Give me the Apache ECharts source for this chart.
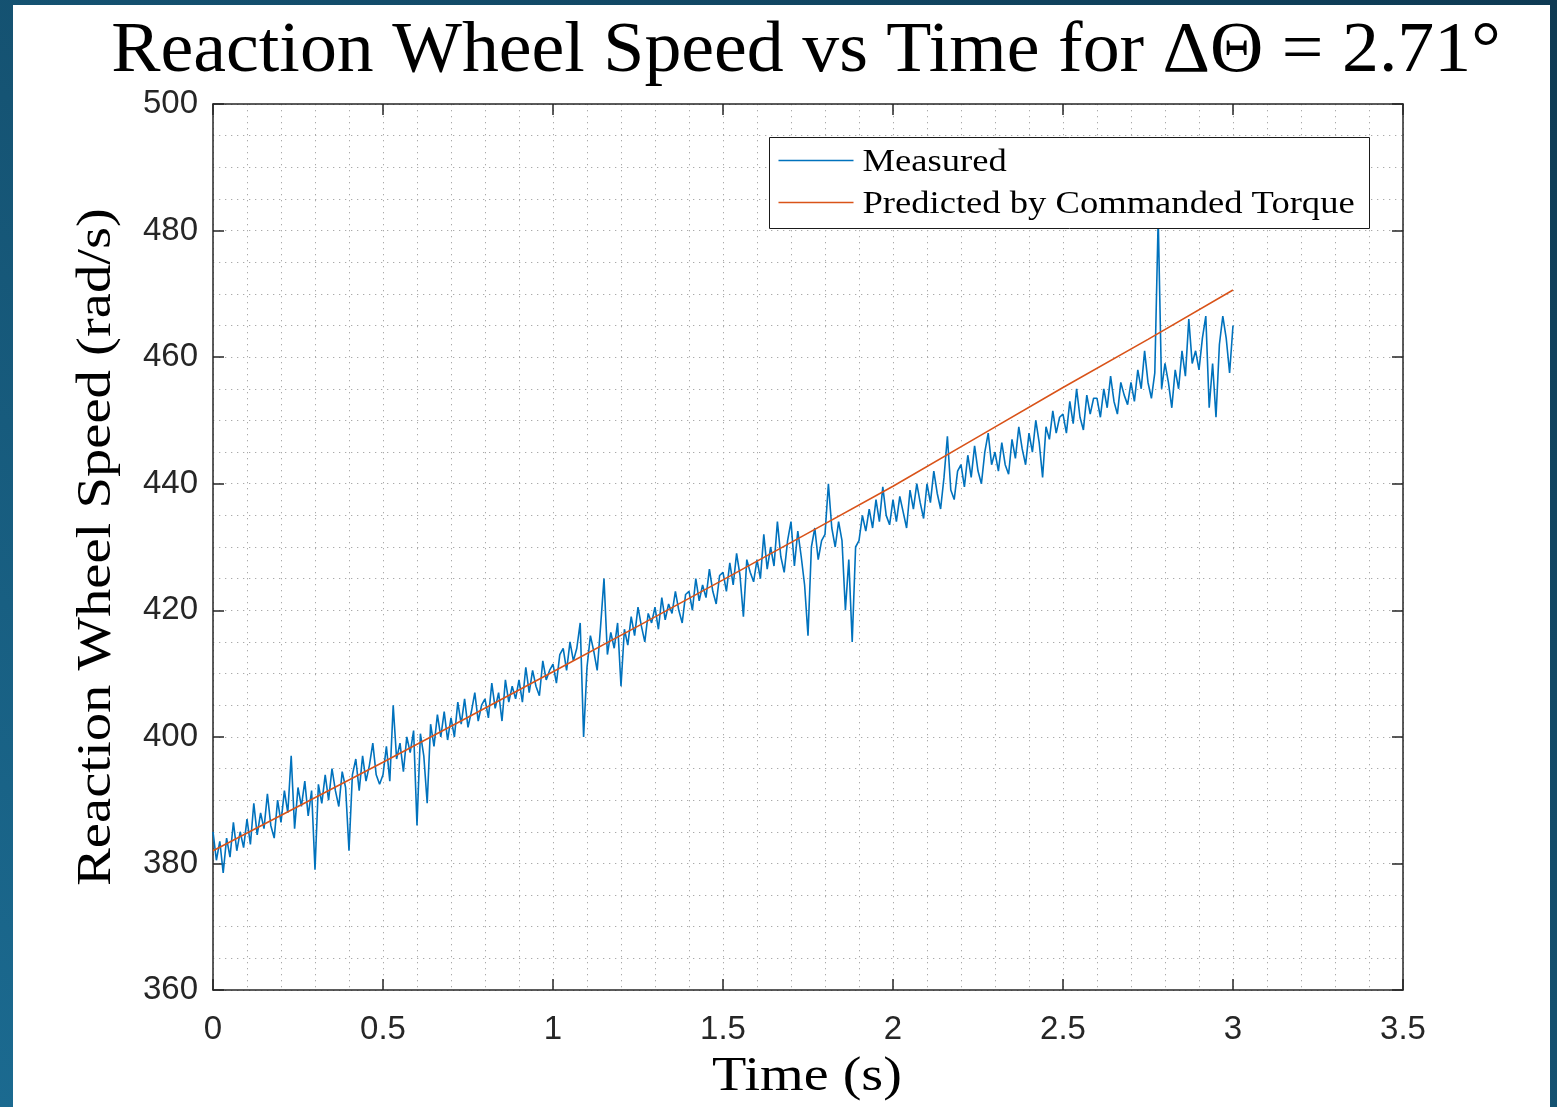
<!DOCTYPE html>
<html>
<head>
<meta charset="utf-8">
<script src="https://cdn.jsdelivr.net/npm/echarts@6/dist/echarts.min.js"></script>
<style>
  html, body { margin: 0; padding: 0; }
  #frame {
    position: relative; width: 1557px; height: 1107px; overflow: hidden;
    background: linear-gradient(to bottom left, #0e3a53, #1b6a90);
  }
  #chart { position: absolute; left: 13px; top: 5px; width: 1537px; height: 1102px; background: #fff; }
</style>
</head>
<body>
<div id="frame"><div id="chart"></div></div>
<script>
// ---- text ----
const titleText = 'Reaction Wheel Speed vs Time for \u0394\u0398 = 2.71\u00b0';
const xAxisTitle = 'Time (s)';
const yAxisTitle = 'Reaction Wheel Speed (rad/s)';
const seriesNames = ['Measured', 'Predicted by Commanded Torque'];
const seriesColors = ['#0072BD', '#D95319'];

// ---- axis ticks ----
const xTickValues = [0, 0.5, 1, 1.5, 2, 2.5, 3, 3.5];
const yTickValues = [360, 380, 400, 420, 440, 460, 480, 500];

// ---- measured wheel speed (rad/s), one sample every 10 ms from t = 0 ----
const sampleStep = 0.01;
const measuredSpeed = [
  385, 380.5, 383.5, 378.5, 384, 381, 386.5, 382, 385, 382.5,
  387, 383, 389.5, 384.5, 388, 385.5, 391, 386, 384, 390,
  386.5, 391.5, 388, 397, 385.5, 392, 389, 393, 387.5, 391.5,
  379, 392.5, 389.5, 394, 390, 395, 391.5, 389, 394.5, 392,
  382, 394, 396.5, 391.5, 397, 393, 395.5, 399, 394, 392.5,
  394, 398.5, 393, 405, 396.5, 399, 394.5, 400, 397.5, 401,
  386, 400.5, 397, 389.5, 402, 398.5, 403.5, 400, 404, 399.5,
  403, 400, 405.5, 402, 406, 401.5, 404, 407, 402.5, 405,
  406, 403, 408.5, 404.5, 407, 402.5, 409, 405.5, 408, 406,
  409, 405.5, 411, 407, 410.5, 408, 406.5, 412, 409, 410.5,
  411.5, 408.5, 413, 414, 410.5, 415, 412, 414, 418, 400,
  411, 416, 413.5, 410.5, 417.5, 425, 413, 416.5, 414, 418,
  408, 417, 414.5, 419, 416, 420.5, 417.5, 415, 419.5, 418,
  420.5, 417, 422, 418.5, 421, 419.5, 423, 420, 418, 422.5,
  423, 420, 425, 421.5, 424, 422, 426.5, 423, 421, 425.5,
  426, 423, 427.5, 424, 429, 425.5, 419, 428, 426, 424.5,
  428, 425, 432, 426.5, 430, 427, 434, 428.5, 426, 431,
  434, 427, 432.5, 428.5, 424, 416, 430, 433, 428, 431,
  432, 440, 433, 430, 434, 431, 420, 428, 415, 430,
  431, 435, 432.5, 436, 433, 437.5, 434, 439.5, 435, 433.5,
  437.5, 434, 438, 435.5, 433, 439, 436, 440, 437, 434.5,
  440, 437, 442, 438.5, 436, 441, 447.5, 439, 437.5, 442,
  443, 439.5, 444.5, 441, 446, 442, 440, 445, 448, 443,
  445, 442, 446.5, 443, 441.5, 447, 444, 449, 445.5, 443,
  448, 445, 450, 446.5, 441, 449, 447, 451.5, 448, 450.5,
  451, 448, 453, 449.5, 455, 450.5, 448.5, 454, 451, 453.5,
  453.5, 450.5, 455, 452, 457, 453, 451, 456, 454, 452.5,
  456, 453, 458, 455, 461, 456, 453.5, 457.5, 482, 455,
  459, 456, 452, 458, 455, 461, 457, 466, 459, 461,
  458, 463, 466.5, 452, 459, 450.5, 462, 466.5, 463, 457.5, 465
];

// ---- speed predicted from the commanded torque (rad/s) ----
const predictedTime = [0, 0.25, 0.5, 0.75, 1, 1.25, 1.5, 1.75, 2, 2.25, 2.5, 2.75, 3];
const predictedSpeed = [382.0, 389.0, 396.0, 403.1, 410.3, 417.5, 424.8, 432.2, 439.6, 447.4, 455.2, 462.8, 470.6];

const measuredPoints = measuredSpeed.map((v, i) => [Math.round(i * sampleStep * 100) / 100, v]);
const predictedPoints = predictedTime.map((t, i) => [t, predictedSpeed[i]]);

const axisColor = '#262626';
const gridDots = { color: '#aaaaaa', width: 1, type: [1.3, 4.7] };
const serif = 'Liberation Serif';
const sans = 'Liberation Sans';

const xMin = xTickValues[0], xMax = xTickValues[xTickValues.length - 1], xStep = xTickValues[1] - xTickValues[0];
const yMin = yTickValues[0], yMax = yTickValues[yTickValues.length - 1], yStep = yTickValues[1] - yTickValues[0];

function xAxisDef(pos, labels) {
  return {
    type: 'value', position: pos, min: xMin, max: xMax, interval: xStep,
    axisLine: { show: true, onZero: false, lineStyle: { color: axisColor, width: 1.5 } },
    axisTick: { show: true, inside: true, length: 11, lineStyle: { color: axisColor, width: 1.5 } },
    axisLabel: { show: labels, margin: 23, color: axisColor, fontFamily: sans, fontSize: 33 },
    splitLine: { show: labels, lineStyle: gridDots },
    minorTick: { show: false, splitNumber: 5 },
    minorSplitLine: { show: labels, lineStyle: gridDots }
  };
}
function yAxisDef(pos, labels) {
  return {
    type: 'value', position: pos, min: yMin, max: yMax, interval: yStep,
    axisLine: { show: true, onZero: false, lineStyle: { color: axisColor, width: 1.5 } },
    axisTick: { show: true, inside: true, length: 11, lineStyle: { color: axisColor, width: 1.5 } },
    axisLabel: { show: labels, margin: 15, color: axisColor, fontFamily: sans, fontSize: 33 },
    splitLine: { show: labels, lineStyle: gridDots },
    minorTick: { show: false, splitNumber: 4 },
    minorSplitLine: { show: labels, lineStyle: gridDots }
  };
}

// legend box drawn as a small group in the upper part of the plot, on top of the traces
const legendBox = { x: 756.5, y: 132.5, w: 600, h: 91, rowY: [23, 65], lineX: [9, 84], textX: 93, textDy: 2 };
const legendItems = [];
legendItems.push({ type: 'rect', z: 100, shape: { x: 0, y: 0, width: legendBox.w, height: legendBox.h },
  style: { fill: '#ffffff', stroke: '#1a1a1a', lineWidth: 1 } });
seriesNames.forEach((name, i) => {
  legendItems.push({ type: 'line', z: 101,
    shape: { x1: legendBox.lineX[0], y1: legendBox.rowY[i], x2: legendBox.lineX[1], y2: legendBox.rowY[i] },
    style: { stroke: seriesColors[i], lineWidth: 1.5 } });
  legendItems.push({ type: 'text', z: 101, x: legendBox.textX, y: legendBox.rowY[i] + legendBox.textDy, scaleX: 1.18,
    style: { text: name, fontFamily: serif, fontSize: 31, fill: '#000', align: 'left', verticalAlign: 'middle' } });
});

const chart = echarts.init(document.getElementById('chart'), null, { renderer: 'canvas' });
chart.setOption({
  animation: false,
  backgroundColor: '#ffffff',
  grid: { left: 200, top: 99, width: 1190, height: 886, containLabel: false },
  xAxis: [xAxisDef('bottom', true), xAxisDef('top', false)],
  yAxis: [yAxisDef('left', true), yAxisDef('right', false)],
  graphic: [
    { type: 'text', x: 793, y: 47, scaleX: 1.04, silent: true,
      style: { text: titleText, fontFamily: serif, fontSize: 71, fill: '#000', align: 'center', verticalAlign: 'middle' } },
    { type: 'text', x: 794, y: 1072, scaleX: 1.17, silent: true,
      style: { text: xAxisTitle, fontFamily: serif, fontSize: 48, fill: '#000', align: 'center', verticalAlign: 'middle' } },
    { type: 'text', x: 84, y: 542, rotation: Math.PI / 2, scaleX: 1.18, silent: true,
      style: { text: yAxisTitle, fontFamily: serif, fontSize: 48, fill: '#000', align: 'center', verticalAlign: 'middle' } },
    { type: 'group', x: legendBox.x, y: legendBox.y, z: 100, silent: true, children: legendItems }
  ],
  series: [
    { name: seriesNames[0], type: 'line', data: measuredPoints, symbol: 'none', z: 2,
      lineStyle: { color: seriesColors[0], width: 1.6 }, itemStyle: { color: seriesColors[0] } },
    { name: seriesNames[1], type: 'line', data: predictedPoints, symbol: 'none', z: 3,
      lineStyle: { color: seriesColors[1], width: 1.6 }, itemStyle: { color: seriesColors[1] } }
  ]
});
</script>
</body>
</html>
